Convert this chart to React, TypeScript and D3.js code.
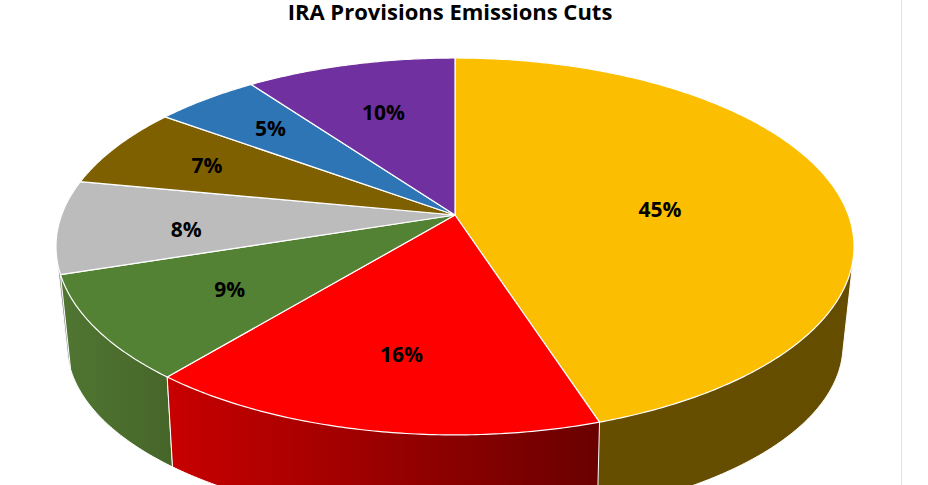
import React from 'react';
import * as d3 from 'd3';

// shares in percent, clockwise from 12 o'clock
const shares = [45, 16, 9, 8, 7, 5, 10];
const topColors = ['#FBBE00', '#FF0000', '#548235', '#BCBCBC', '#7F6000', '#2E75B6', '#7030A0'];
const wallFrom = ['#674E00', '#C80000', '#507632', '#8E8E8E', '#5F4800', '#225788', '#542478'];
const wallTo = ['#654D00', '#6A0000', '#466629', '#8E8E8E', '#5F4800', '#225788', '#542478'];

// where each label sits, as a fraction of the radius, plus a small nudge down
const labelRadius = [0.535, 0.65, 0.65, 0.68, 0.72, 0.72, 0.65];
const labelNudge = [9, 8, 3, 6, 0, -1, 0];

const W = 928;
const H = 485;

// the discs are drawn with a bit of perspective, so the apex is not the ellipse centre
const top = { cx: 455, cy: 215, rx: 393.4, ry: 183.2, persp: -0.167 };
const bottom = { cx: 455, cy: 313, rx: 381.7, ry: 172, persp: -0.18 };

type Disc = typeof top;

const project = (d: Disc, angle: number, r = 1): [number, number] => {
  const u = Math.sin(angle) * r;
  const v = -Math.cos(angle) * r;
  const w = 1 + d.persp * v;
  return [d.cx + (d.rx * u) / w, d.cy + (d.ry * v) / w];
};

const sampleArc = (d: Disc, a0: number, a1: number) => {
  const n = Math.max(2, Math.ceil((a1 - a0) / 0.01));
  return d3.range(n + 1).map((i) => project(d, a0 + ((a1 - a0) * i) / n));
};

const line = d3.line();

const App: React.FC = () => {
  const arcs = d3
    .pie<number>()
    .sort(null)
    .startAngle(0)
    .endAngle(2 * Math.PI)(shares);

  // far walls first, so the near ones paint over them
  const wallOrder = d3.sort(arcs, (a) => -Math.cos((a.startAngle + a.endAngle) / 2));

  return (
    <svg
      width={W}
      height={H}
      style={{ position: 'absolute', left: 0, top: 0, background: '#fff' }}
    >
      <defs>
        {arcs.map((a, i) => {
          const xs = [
            ...sampleArc(top, a.startAngle, a.endAngle),
            ...sampleArc(bottom, a.startAngle, a.endAngle),
          ].map((p) => p[0]);
          const [x0, x1] = d3.extent(xs) as [number, number];
          return (
            <linearGradient
              key={i}
              id={`wall-${i}`}
              gradientUnits="userSpaceOnUse"
              x1={x0}
              x2={x1}
              y1={0}
              y2={0}
            >
              <stop offset="0%" stopColor={wallFrom[i]} />
              <stop offset="100%" stopColor={wallTo[i]} />
            </linearGradient>
          );
        })}
      </defs>

      <line x1={901.5} x2={901.5} y1={0} y2={H} stroke="#E2E2E2" strokeWidth={1} />

      {/* side walls: the hull gives the straight tangent edges at the far left and right */}
      {wallOrder.map((a) => {
        const hull = d3.polygonHull([
          ...sampleArc(top, a.startAngle, a.endAngle),
          ...sampleArc(bottom, a.startAngle, a.endAngle),
        ]);
        return (
          <path
            key={a.index}
            d={line(hull!) + 'Z'}
            fill={`url(#wall-${a.index})`}
            stroke="#fff"
            strokeWidth={1}
          />
        );
      })}

      {/* top face */}
      {arcs.map((a, i) => {
        const rim = sampleArc(top, a.startAngle, a.endAngle);
        return (
          <path
            key={i}
            d={line([[top.cx, top.cy], ...rim]) + 'Z'}
            fill={topColors[i]}
            stroke="#fff"
            strokeWidth={1.2}
            strokeLinejoin="round"
          />
        );
      })}

      {arcs.map((a, i) => {
        const [x, y] = project(top, (a.startAngle + a.endAngle) / 2, labelRadius[i]);
        return (
          <text
            key={i}
            x={x}
            y={y + labelNudge[i]}
            textAnchor="middle"
            dominantBaseline="central"
            fontFamily="'Open Sans', sans-serif"
            fontWeight={700}
            fontSize={21}
            fill="#000"
          >
            {shares[i]}%
          </text>
        );
      })}

      <text
        x={450}
        y={20}
        textAnchor="middle"
        fontFamily="'Open Sans', sans-serif"
        fontWeight={700}
        fontSize={22}
        fill="#000"
      >
        IRA Provisions Emissions Cuts
      </text>
    </svg>
  );
};

export default App;
